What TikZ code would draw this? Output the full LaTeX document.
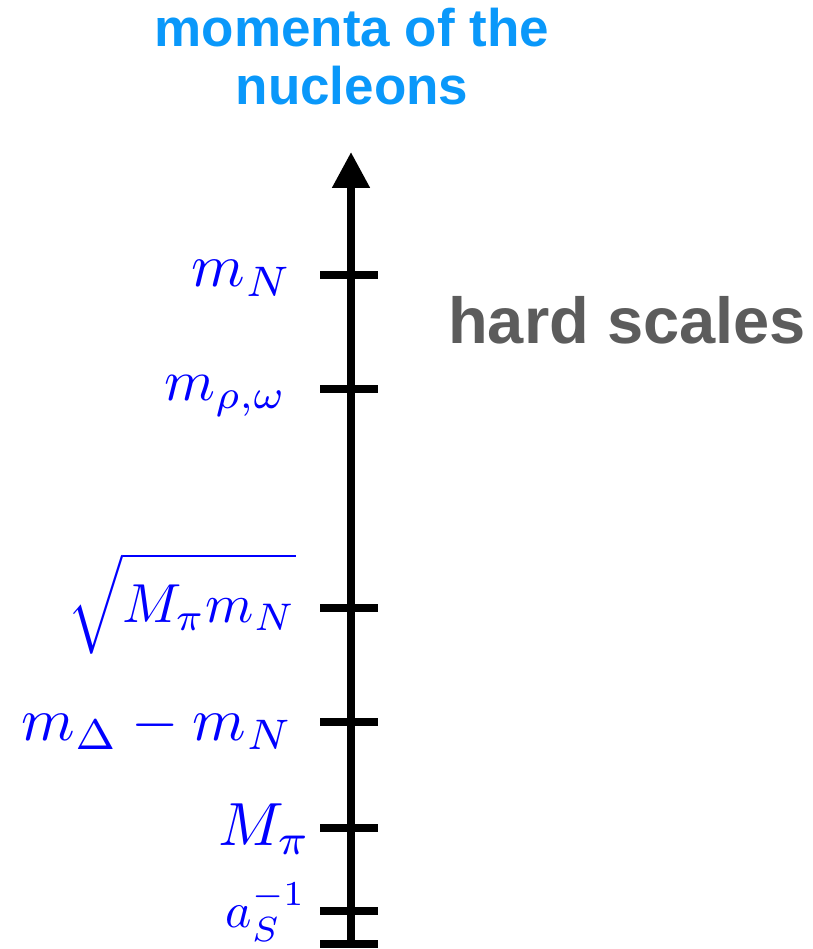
\documentclass[tikz,border=0pt]{standalone}
\usepackage{fontspec}
\setsansfont{Liberation Sans}
\usetikzlibrary{arrows.meta}
\definecolor{titleblue}{RGB}{10,152,250}
\definecolor{hardgray}{RGB}{92,92,92}
\definecolor{labblue}{RGB}{0,0,255}
\newcommand{\biglab}[2][6.1]{\scalebox{#1}{$#2$}}
\tikzset{
  axisline/.style={line width=8pt,-{Triangle[length=36pt,width=36pt]}},
  tickmark/.style={line width=7.5pt},
  scalelab/.style={anchor=base east,inner sep=0pt,text=labblue},
  headline/.style={anchor=base,text=titleblue,font=\sffamily\bfseries\fontsize{53}{60}\selectfont,inner sep=0pt},
}
\begin{document}
\begin{tikzpicture}[x=1pt,y=-1pt]
\useasboundingbox (0,0) rectangle (812,949);
\coordinate (bot) at (351,944);
\coordinate (top) at (351,152);
\draw[axisline] (bot) -- (top);
\foreach \n/\yy in {t1/275,t2/389,t3/608,t4/722,t5/828,t6/911,t7/944}{
  \coordinate (\n) at (351,\yy);
  \draw[tickmark] ([xshift=-31pt]\n) -- ([xshift=27pt]\n);
}
\node[scalelab] (l1) at (292,287) {\biglab{m_N}};
\node[scalelab] (l2) at (287,400) {\biglab[5.8]{m_{\rho,\omega}}};
\node[scalelab] (l3) at (296,622) {\biglab[5.5]{\sqrt{\rule[-3pt]{0pt}{11.5pt}M_\pi m_N}}};
\node[scalelab] (l4) at (293,740) {\biglab{m_\Delta - m_N}};
\node[scalelab] (l5) at (311,845) {\biglab{M_\pi}};
\node[scalelab] (l6) at (306,927) {\biglab[5]{a_S^{-1}}};
\node[headline] (title1) at (352,47) {momenta of the};
\node[headline] (title2) at (352,105) {nucleons};
\node[anchor=base west,inner sep=0pt,text=hardgray,font=\sffamily\bfseries\fontsize{65}{72}\selectfont] (hard) at (448,343) {hard scales};
\end{tikzpicture}
\end{document}
